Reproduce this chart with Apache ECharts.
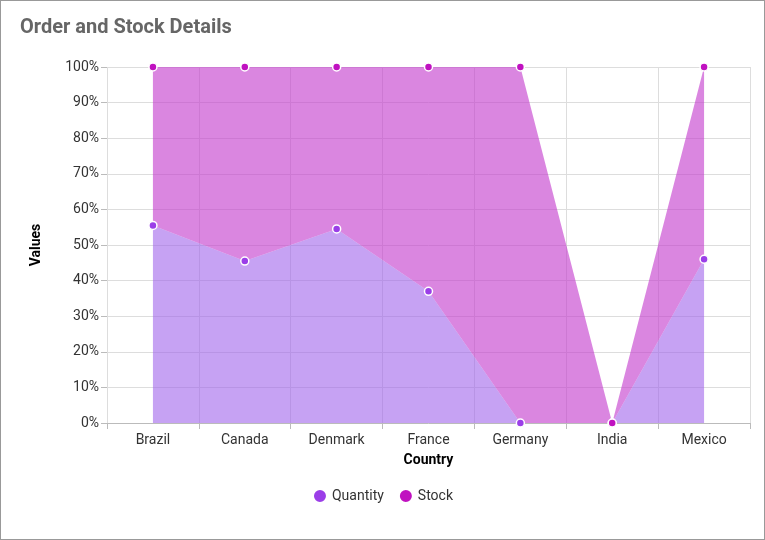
<!DOCTYPE html>
<html>
<head>
<meta charset="utf-8">
<script src="https://cdn.jsdelivr.net/npm/echarts@6/dist/echarts.min.js"></script>
<style>
  html, body { margin: 0; padding: 0; background: #fff; }
  #chart { width: 763px; height: 538px; border: 1px solid #999; }
</style>
</head>
<body>
<div id="chart"></div>
<script>
// shares in percent
var countries = ['Brazil', 'Canada', 'Denmark', 'France', 'Germany', 'India', 'Mexico'];
var quantity = [55.5, 45.5, 54.5, 37, 0, 0, 46];
var stock = [44.5, 54.5, 45.5, 63, 100, 0, 54];

var chart = echarts.init(document.getElementById('chart'));
var font = 'Roboto';

function areaSeries(name, data, lineColor, areaColor) {
  return {
    name: name,
    type: 'line',
    stack: 'total',
    data: data,
    symbol: 'circle',
    symbolSize: 8,
    showAllSymbol: true,
    lineStyle: { width: 0 },
    itemStyle: { color: lineColor, borderColor: '#fff', borderWidth: 1.5 },
    areaStyle: { color: areaColor, opacity: 1 }
  };
}

chart.setOption({
  textStyle: { fontFamily: font },
  title: {
    text: 'Order and Stock Details',
    left: 14, top: 12,
    textStyle: { fontSize: 20, fontWeight: 'bold', color: '#666', fontFamily: font }
  },
  legend: {
    bottom: 30,
    icon: 'circle',
    itemWidth: 14, itemHeight: 14, itemGap: 14,
    textStyle: { fontSize: 14, color: '#333' },
    data: ['Quantity', 'Stock']
  },
  grid: { left: 106, right: 14, top: 66, bottom: 116 },
  xAxis: {
    type: 'category',
    data: countries,
    name: 'Country',
    nameLocation: 'middle',
    nameGap: 30,
    nameTextStyle: { fontSize: 14, fontWeight: 'bold', color: '#000' },
    axisLine: { lineStyle: { color: '#bbb' } },
    axisTick: { show: true, length: 6, lineStyle: { color: '#bbb' } },
    axisLabel: { fontSize: 14, color: '#333', margin: 10 },
    splitLine: { show: true, lineStyle: { color: '#ddd' } }
  },
  yAxis: {
    type: 'value',
    min: 0, max: 100, interval: 10,
    name: 'Values',
    nameLocation: 'middle',
    nameGap: 64,
    nameTextStyle: { fontSize: 14, fontWeight: 'bold', color: '#000' },
    axisLine: { show: false },
    axisTick: { show: true, length: 6, lineStyle: { color: '#bbb' } },
    axisLabel: { fontSize: 14, color: '#333', formatter: '{value}%', margin: 8 },
    splitLine: { lineStyle: { color: '#ddd' } }
  },
  series: [
    areaSeries('Quantity', quantity, '#9b3ee8', 'rgba(160,100,235,0.6)'),
    areaSeries('Stock', stock, '#c011c0', 'rgba(195,60,205,0.62)')
  ]
});
</script>
</body>
</html>
